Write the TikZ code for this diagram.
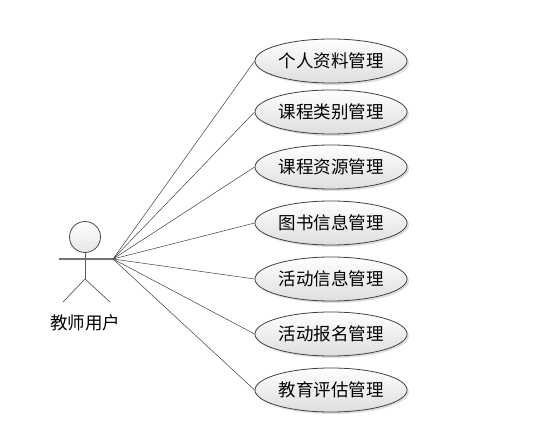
\documentclass[tikz,border=0pt]{standalone}
\usepackage{fontspec}
\usetikzlibrary{shapes.geometric,shadows}
\newfontfamily\cjk{Noto Sans CJK SC}
\begin{document}
\begin{tikzpicture}[x=1pt,y=-1pt,
  usecase/.style={ellipse,draw=black!75,line width=0.8pt,minimum width=152pt,minimum height=44pt,inner sep=0pt,
    top color=white,bottom color=black!13,font=\cjk\fontsize{17.5}{19}\selectfont,
    drop shadow={shadow xshift=2pt,shadow yshift=-2pt,fill=black!25}},
  actorline/.style={draw=black!65,line width=0.7pt},
  conn/.style={draw=black!75,line width=0.5pt}]
\useasboundingbox (0,0) rectangle (553,438);
% actor
\node[circle,draw=black!70,line width=0.8pt,minimum size=31pt,inner sep=0pt,top color=white,bottom color=black!10] (head) at (85,237) {};
\coordinate (hip) at (85,279);
\coordinate (lhand) at (59,259);
\coordinate (rhand) at (113,259);
\coordinate (lfoot) at (63,302);
\coordinate (rfoot) at (110,302);
\draw[actorline] (head.south) -- (hip);
\draw[actorline,line width=1.4pt,draw=black!55] (lhand) -- (rhand);
\draw[actorline] (lfoot) -- (hip) -- (rfoot);
\node[font=\cjk\fontsize{17.5}{19}\selectfont] (actlabel) at (85,323) {教师用户};
% use cases
\foreach \n/\y/\t in {u1/61/个人资料管理,u2/112/课程类别管理,u3/167/课程资源管理,u4/223/图书信息管理,u5/279/活动信息管理,u6/334/活动报名管理,u7/390/教育评估管理}{
  \node[usecase] (\n) at (331,\y) {\t};
  \draw[conn] (rhand) -- (\n.west);
}
\end{tikzpicture}
\end{document}
